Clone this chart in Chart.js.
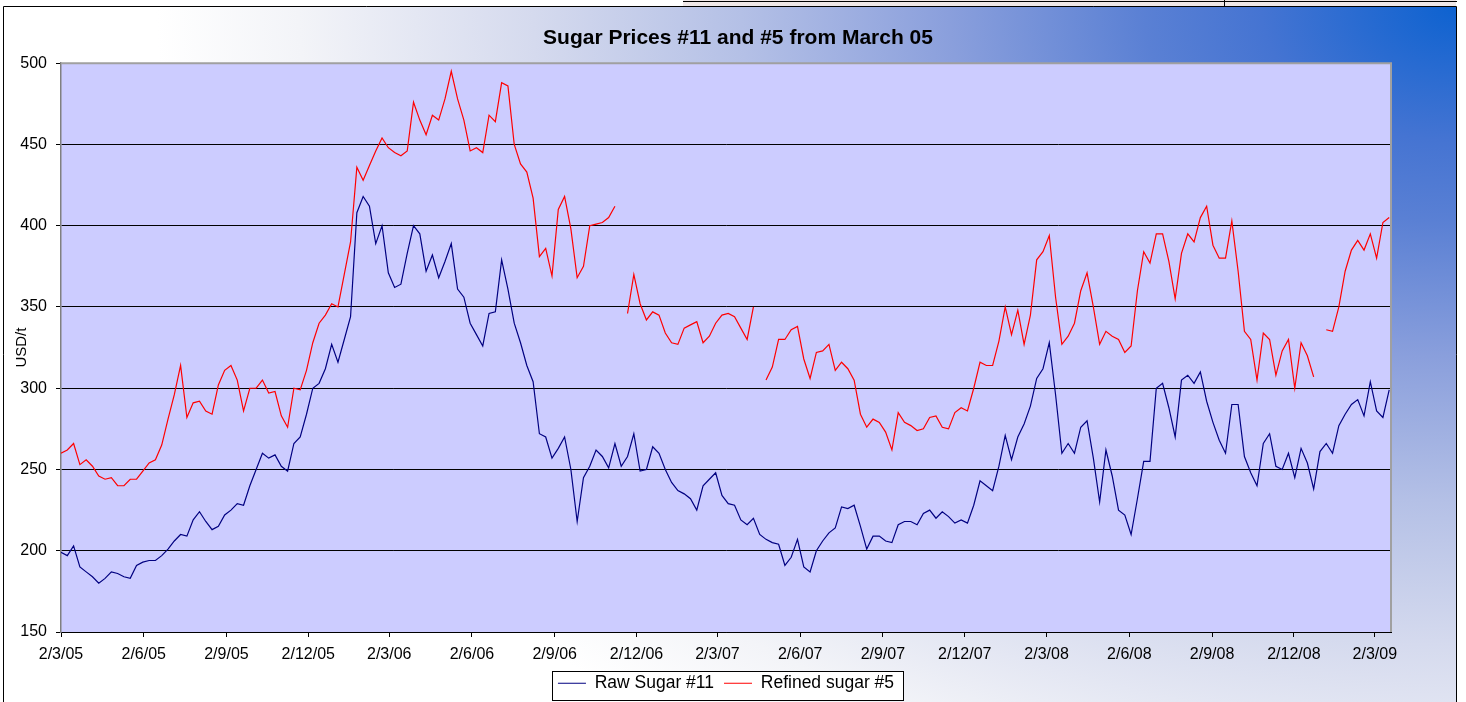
<!DOCTYPE html>
<html>
<head>
<meta charset="utf-8">
<title>Sugar Prices #11 and #5 from March 05</title>
<script src="https://cdn.jsdelivr.net/npm/chart.js@4.4.1/dist/chart.umd.min.js"></script>
<style>
  html, body { margin: 0; padding: 0; background: #fff; overflow: hidden; }
  canvas { display: block; }
</style>
</head>
<body>
<canvas id="sugarChart" width="1466" height="702"></canvas>
<script>
// Weekly prices in USD/t, first point on 2 March 2005
const startDate = '2005-03-02';
const stepDays = 7;
const axisEnd = '20/3/09';

const rawSugar11 = [
  199, 197, 203, 190, 187, 184, 180, 183, 187, 186, 184, 183, 191, 193, 194, 194, 197, 201, 206, 210,
  209, 219, 224, 218, 213, 215, 222, 225, 229, 228, 240, 250, 260, 257, 259,
  252, 249, 266, 270, 284, 300, 303, 312, 327, 316, 330, 344, 408, 418, 412, 389, 400, 371, 362, 364,
  383, 400, 395, 372, 382, 368, 378, 389, 361, 356, 340, 333, 326, 346, 347,
  379, 361, 340, 328, 314, 304, 272, 270, 257, 263, 270, 250, 218, 245, 252, 262, 258, 251, 266, 252,
  258, 272, 249, 250, 264, 260, 250, 242, 237, 235, 232, 225, 240, 244, 248,
  234, 229, 228, 219, 216, 220, 210, 207, 205, 204, 191, 196, 207, 190, 187, 200, 206, 211, 214, 227,
  226, 228, 215, 201, 209, 209, 206, 205, 216, 218, 218, 216, 223, 225, 220,
  224, 221, 217, 219, 217, 228, 243, 240, 237, 252, 271, 256, 270, 278, 289, 306, 312, 328, 296, 260,
  266, 260, 276, 280, 257, 230, 262, 246, 225, 222, 210, 232, 255, 255, 300,
  303, 288, 270, 305, 308, 303, 310, 292, 279, 268, 260, 290, 290, 258, 248, 240, 266, 272, 252, 250,
  260, 245, 263, 254, 238, 261, 266, 260, 277, 284, 290, 293, 283, 304, 286, 282, 299
];

const refinedSugar5 = [
  260, 262, 266, 253, 256, 252, 246, 244, 245, 240, 240, 244, 244, 249, 254, 256, 265, 281, 296, 314,
  282, 291, 292, 286, 284, 302, 311, 314, 305, 286, 300, 300, 305, 297, 298,
  283, 276, 300, 299, 311, 328, 340, 345, 352, 350, 370, 390, 436, 428, 437, 446, 454, 448, 445, 443,
  446, 476, 465, 456, 468, 465, 478, 495, 478, 465, 446, 448, 445, 468, 464,
  488, 486, 450, 438, 433, 417, 381, 386, 369, 410, 418, 398, 368, 375, 400, 401, 402, 405, 412, null,
  346, 370, 352, 342, 347, 345, 334, 328, 327, 337, 339, 341, 328, 332, 340,
  345, 346, 344, 337, 330, 350, null, 305, 313, 330, 330, 336, 338, 318, 306, 322, 323, 327, 311, 316,
  312, 305, 284, 276, 281, 279, 273, 262, 285, 279, 277, 274, 275, 282, 283,
  276, 275, 285, 288, 286, 300, 316, 314, 314, 329, 350, 333, 348, 327, 345, 379, 384, 394, 356, 327,
  332, 340, 360, 371, 350, 327, 335, 332, 330, 322, 326, 360, 384, 377, 395,
  395, 378, 355, 383, 395, 390, 405, 412, 388, 380, 380, 403, 372, 335, 330, 305, 334, 330, 308, 323,
  330, 300, 328, 320, 307, null, 336, 335, 350, 372, 385, 391, 385, 395, 380, 402, 405
];

const tickLabels = [
  '2/3/05', '2/6/05', '2/9/05', '2/12/05', '2/3/06', '2/6/06', '2/9/06', '2/12/06',
  '2/3/07', '2/6/07', '2/9/07', '2/12/07', '2/3/08', '2/6/08', '2/9/08', '2/12/08', '2/3/09'
];

const FONT = "'Liberation Sans', Arial, sans-serif";
const DAY = 86400000;
const t0 = Date.parse(startDate);

// labels are d/m/yy
function dayOf(label) {
  const [d, m, y] = label.split('/').map(Number);
  return Math.round((Date.UTC(2000 + y, m - 1, d) - t0) / DAY);
}

const tickDays = tickLabels.map(dayOf);
const toPoints = arr => arr.map((v, i) => ({ x: i * stepDays, y: v }));

// background, sheet lines, plot fill and legend frame
const frame = {
  id: 'frame',
  beforeDraw(chart) {
    const { ctx, width, height, chartArea: a } = chart;
    ctx.save();
    ctx.fillStyle = '#fff';
    ctx.fillRect(0, 0, width, height);

    ctx.fillStyle = '#efe7e7';
    ctx.fillRect(683, 0, 773, 6);
    ctx.strokeStyle = '#000';
    ctx.lineWidth = 1;
    ctx.beginPath();
    ctx.moveTo(683, 1.5); ctx.lineTo(1457, 1.5);
    ctx.moveTo(1224.5, 0); ctx.lineTo(1224.5, 6);
    ctx.stroke();

    // corner gradient, darkest at top right
    ctx.save();
    ctx.beginPath();
    ctx.rect(3, 6, 1453, height - 6);
    ctx.clip();
    ctx.translate(1456, 6);
    ctx.scale(1, 900 / 1300);
    const g = ctx.createRadialGradient(0, 0, 0, 0, 0, 1300);
    g.addColorStop(0, '#0d62d0');
    g.addColorStop(0.15, '#4574d2');
    g.addColorStop(0.24, '#5a80d4');
    g.addColorStop(0.39, '#8a9fdc');
    g.addColorStop(0.55, '#b4c0e6');
    g.addColorStop(0.71, '#d5daee');
    g.addColorStop(0.89, '#f3f4f8');
    g.addColorStop(1, '#ffffff');
    ctx.fillStyle = g;
    ctx.fillRect(-1500, -20, 1520, 1400);
    ctx.restore();

    ctx.strokeStyle = '#000';
    ctx.lineWidth = 1;
    ctx.beginPath();
    ctx.moveTo(3.5, height);
    ctx.lineTo(3.5, 6.5);
    ctx.lineTo(1456.5, 6.5);
    ctx.lineTo(1456.5, height);
    ctx.stroke();

    ctx.fillStyle = '#ccccff';
    ctx.fillRect(a.left, a.top, a.right - a.left, a.bottom - a.top);

    const hb = chart.legend.legendHitBoxes;
    if (hb && hb.length) {
      const last = hb[hb.length - 1];
      const l = Math.round(hb[0].left - 6);
      const r = Math.round(last.left + last.width + 9);
      const t = Math.round(hb[0].top - 4);
      const b = Math.round(hb[0].top + hb[0].height + 8);
      ctx.fillStyle = '#fff';
      ctx.fillRect(l, t, r - l, b - t);
      ctx.strokeRect(l + 0.5, t + 0.5, r - l, b - t);
    }
    ctx.restore();
  },
  beforeDatasetsDraw(chart) {
    const { ctx, chartArea: a } = chart;
    ctx.save();
    ctx.strokeStyle = '#a0a0a0';
    ctx.lineWidth = 2;
    ctx.beginPath();
    ctx.moveTo(a.left, a.top);
    ctx.lineTo(a.right, a.top);
    ctx.lineTo(a.right, a.bottom);
    ctx.stroke();
    ctx.restore();
  }
};

Chart.defaults.font.family = FONT;
Chart.defaults.color = '#000';

new Chart(document.getElementById('sugarChart'), {
  type: 'line',
  data: {
    datasets: [
      {
        label: 'Raw Sugar #11',
        data: toPoints(rawSugar11),
        borderColor: '#000080',
        backgroundColor: '#000080',
        borderWidth: 1.2,
        pointRadius: 0,
        tension: 0,
        spanGaps: false
      },
      {
        label: 'Refined sugar #5',
        data: toPoints(refinedSugar5),
        borderColor: '#ff0000',
        backgroundColor: '#ff0000',
        borderWidth: 1.2,
        pointRadius: 0,
        tension: 0,
        spanGaps: false
      }
    ]
  },
  options: {
    responsive: false,
    animation: false,
    devicePixelRatio: 1,
    events: [],
    layout: { padding: { left: 10, right: 0, top: 0, bottom: 0 } },
    scales: {
      x: {
        type: 'linear',
        min: 0,
        max: dayOf(axisEnd),
        afterBuildTicks: s => { s.ticks = tickDays.map(v => ({ value: v })); },
        afterFit: s => { s.height = 32.5; },
        ticks: {
          callback: (v, i) => tickLabels[i],
          autoSkip: false,
          maxRotation: 0,
          font: { size: 16 },
          color: '#000',
          padding: 8
        },
        grid: { drawOnChartArea: false, drawTicks: true, tickLength: 5, tickColor: '#000' },
        border: { color: '#000', width: 1 }
      },
      y: {
        min: 150,
        max: 500,
        afterFit: s => { s.width = 51; },
        ticks: { stepSize: 50, font: { size: 16 }, color: '#000', padding: 9 },
        grid: {
          color: c => (c.tick && c.tick.value === 500 ? '#a0a0a0' : '#000'),
          lineWidth: 1,
          tickLength: 5,
          tickColor: '#000'
        },
        border: { color: '#808080', width: 1.5 },
        title: {
          display: true,
          text: 'USD/t',
          font: { size: 15 },
          color: '#000',
          padding: { top: 3, bottom: 0 }
        }
      },
      yr: {
        position: 'right',
        afterFit: s => { s.width = 75; },
        ticks: { display: false },
        grid: { display: false },
        border: { display: false }
      }
    },
    plugins: {
      title: {
        display: true,
        text: 'Sugar Prices #11 and #5 from March 05',
        font: { size: 21, weight: 'bold' },
        color: '#000',
        padding: { top: 26, bottom: 12 }
      },
      legend: {
        position: 'bottom',
        fullSize: false,
        labels: {
          usePointStyle: true,
          pointStyle: 'line',
          pointStyleWidth: 28,
          font: { size: 17.5 },
          color: '#000',
          padding: 10
        }
      },
      tooltip: { enabled: false }
    }
  },
  plugins: [frame]
});
</script>
</body>
</html>
